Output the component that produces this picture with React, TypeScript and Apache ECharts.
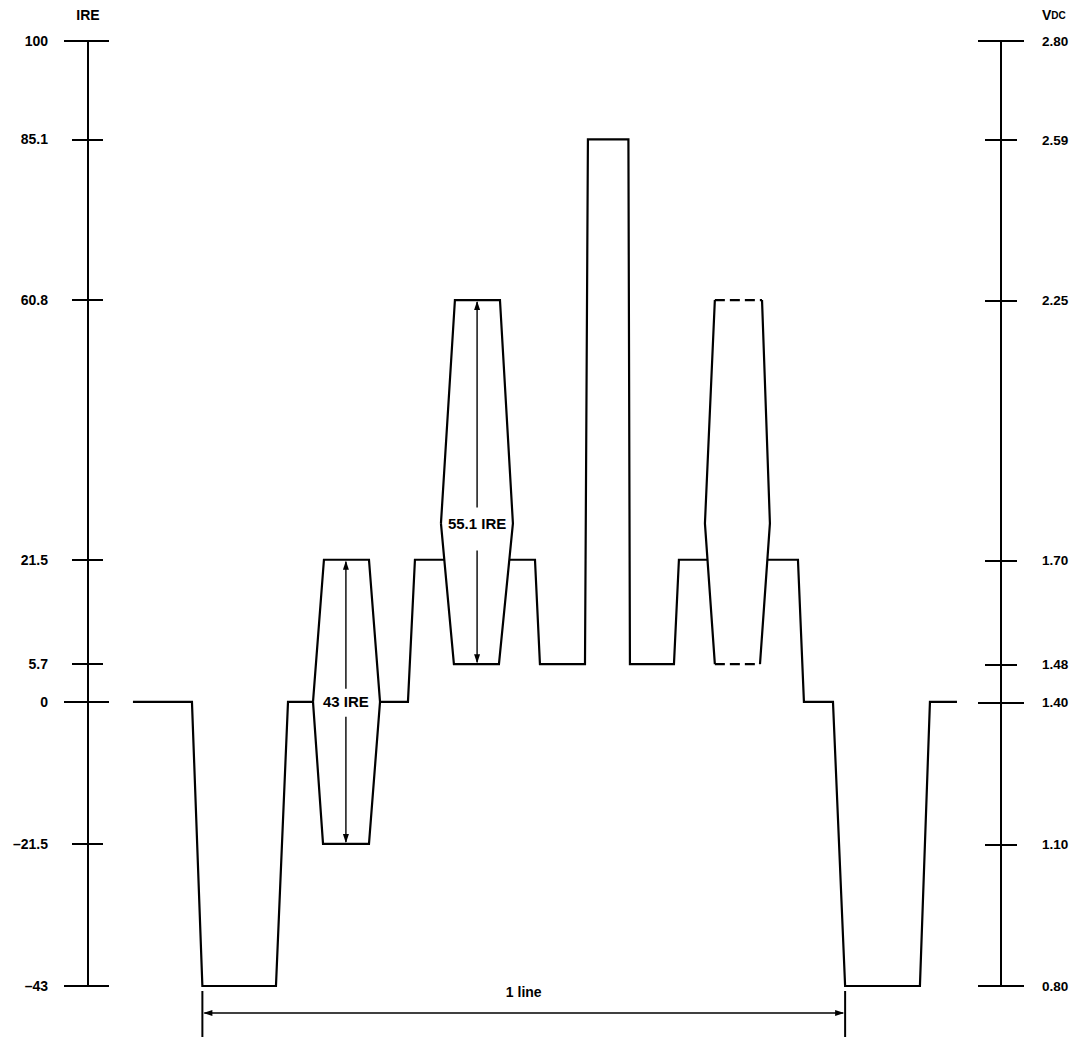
import React, { useEffect, useRef } from "react";
import * as echarts from "echarts";

// ---- Axis tick values ----
const IRE_TICKS = [100, 85.1, 60.8, 21.5, 5.7, 0, -21.5, -43];
const IRE_LONG_TICKS = [100, 0, -43];
const IRE_SHORT_TICKS = [85.1, 60.8, 21.5, 5.7, -21.5];
const VDC_TICKS = [2.8, 2.59, 2.25, 1.7, 1.48, 1.4, 1.1, 0.8];
const VDC_LONG_TICKS = [2.8, 1.4, 0.8];
const VDC_SHORT_TICKS = [2.59, 2.25, 1.7, 1.48, 1.1];

// ---- Waveform (time in µs, level in IRE) ----
const syncLeft = [[-6.86, 0], [-1.03, 0], [0, -43], [7.27, -43], [8.46, 0], [10.93, 0]];
const burstToStep = [[17.55, 0], [20.31, 0], [21.0, 21.5], [23.92, 21.5]];
const centerSection = [
  [30.32, 21.5], [32.86, 21.5], [33.35, 5.7], [37.8, 5.7], [38.09, 85.1], [42.09, 85.1],
  [42.24, 5.7], [46.59, 5.7], [47.08, 21.5], [49.91, 21.5],
];
const syncRight = [
  [55.83, 21.5], [58.84, 21.5], [59.43, 0], [62.3, 0], [63.5, -43], [70.89, -43], [71.88, 0], [74.55, 0],
];
const packet43 = [[10.93, 0], [12.01, 21.5], [16.46, 21.5], [17.55, 0], [16.46, -21.5], [11.92, -21.5], [10.93, 0]];
const packet55 = [[23.57, 27], [24.95, 60.8], [29.4, 60.8], [30.68, 27], [29.3, 5.7], [24.85, 5.7], [23.57, 27]];
const packetRightLeftSide = [[50.63, 60.8], [49.65, 27], [50.63, 5.7]];
const packetRightRightSide = [[55.29, 60.8], [56.07, 27], [55.09, 5.7]];
const packetRightTop = [[50.63, 60.8], [55.29, 60.8]];
const packetRightBottom = [[50.63, 5.7], [55.09, 5.7]];

// ---- Annotations ----
const measureTimes = [14.18, 27.14];
const measureLow = [-21.5, 5.7];
const measureHigh = [21.5, 60.8];
const measureMid = [0, 27];
const measureLabels = ["43 IRE", "55.1 IRE"];
const LINE_START = 0;
const LINE_END = 63.5;
const LINE_LABEL = "1 line";

const FONT = "'Liberation Sans', Arial, Helvetica, sans-serif";
const WEIGHT = "bold";

function fmtIRE(v: number) {
  const s = String(Math.abs(Math.round(v * 10) / 10));
  return v < 0 ? "\u2013" + s : s;
}

export default function App() {
  const ref = useRef<HTMLDivElement>(null);
  useEffect(() => {
    if (!ref.current) return;
    const chart = echarts.init(ref.current, undefined, { renderer: "svg" });
    const solid = { color: "#000", width: 2.2, join: "miter" as const, cap: "butt" as const };
    const lineSeries = (data: number[][], dashed = false) => ({
      type: "line",
      yAxisIndex: 0,
      data,
      symbol: "none",
      clip: false,
      silent: true,
      lineStyle: dashed ? { ...solid, type: [10, 5] } : solid,
    });
    const tickAxis = (
      position: "left" | "right",
      min: number,
      max: number,
      values: number[],
      inside: boolean,
      length: number
    ) => ({
      type: "value",
      position,
      min,
      max,
      axisLine: { show: false, onZero: false },
      axisLabel: { show: false },
      splitLine: { show: false },
      axisTick: { show: true, inside, length, customValues: values, lineStyle: { color: "#000", width: 2 } },
    });

    const option: any = {
      animation: false,
      backgroundColor: "#fff",
      textStyle: { fontFamily: FONT, color: "#000" },
      grid: { left: 88, right: 72, top: 41, bottom: 51, containLabel: false, outerBoundsMode: "none" },
      xAxis: { type: "value", min: -11.3, max: 78.9, show: false },
      yAxis: [
        {
          type: "value",
          position: "left",
          min: -43,
          max: 100,
          name: "IRE",
          nameLocation: "end",
          nameGap: 19,
          nameTextStyle: { fontSize: 14, color: "#000", fontFamily: FONT, fontWeight: WEIGHT },
          axisLine: { show: true, onZero: false, lineStyle: { color: "#000", width: 2 } },
          axisTick: { show: true, inside: false, length: 16, customValues: IRE_SHORT_TICKS, lineStyle: { color: "#000", width: 2 } },
          axisLabel: { customValues: IRE_TICKS, margin: 40, fontSize: 14, fontWeight: WEIGHT, color: "#000", fontFamily: FONT, formatter: (v: number) => fmtIRE(v) },
          splitLine: { show: false },
        },
        tickAxis("left", -43, 100, IRE_SHORT_TICKS, true, 15),
        tickAxis("left", -43, 100, IRE_LONG_TICKS, false, 24),
        tickAxis("left", -43, 100, IRE_LONG_TICKS, true, 21),
        {
          type: "value",
          position: "right",
          min: 0.8,
          max: 2.8,
          name: "{v|V}{s|DC}",
          nameLocation: "end",
          nameGap: 19,
          nameTextStyle: {
            align: "left",
            padding: [0, 0, 0, 41],
            fontFamily: FONT,
            color: "#000",
            rich: {
              v: { fontSize: 14, fontFamily: FONT, fontWeight: WEIGHT, color: "#000" },
              s: { fontSize: 10, fontFamily: FONT, fontWeight: WEIGHT, color: "#000" },
            },
          },
          axisLine: { show: true, onZero: false, lineStyle: { color: "#000", width: 2 } },
          axisTick: { show: true, inside: false, length: 16, customValues: VDC_SHORT_TICKS, lineStyle: { color: "#000", width: 2 } },
          axisLabel: { customValues: VDC_TICKS, margin: 41, fontSize: 13.5, fontWeight: WEIGHT, color: "#000", fontFamily: FONT, formatter: (v: number) => v.toFixed(2) },
          splitLine: { show: false },
        },
        tickAxis("right", 0.8, 2.8, VDC_SHORT_TICKS, true, 16),
        tickAxis("right", 0.8, 2.8, VDC_LONG_TICKS, false, 23),
        tickAxis("right", 0.8, 2.8, VDC_LONG_TICKS, true, 23),
      ],
      series: [
        lineSeries(syncLeft),
        lineSeries(burstToStep),
        lineSeries(centerSection),
        lineSeries(syncRight),
        lineSeries(packet43),
        lineSeries(packet55),
        lineSeries(packetRightLeftSide),
        lineSeries(packetRightRightSide),
        lineSeries(packetRightTop, true),
        lineSeries(packetRightBottom, true),
        {
          type: "custom",
          yAxisIndex: 0,
          clip: false,
          silent: true,
          data: measureTimes.map((t, i) => [t, measureLow[i], measureHigh[i], measureMid[i]]),
          encode: { x: 0, y: [1, 2, 3] },
          renderItem: (params: any, api: any) => {
            const t = api.value(0);
            const bot = api.coord([t, api.value(1)]);
            const top = api.coord([t, api.value(2)]);
            const mid = api.coord([t, api.value(3)]);
            const x = top[0];
            const gapT = params.dataIndex === 0 ? 13 : 16;
            const gapB = params.dataIndex === 0 ? 15 : 27;
            const ls = { stroke: "#000", lineWidth: 1.4 };
            return {
              type: "group",
              children: [
                { type: "line", shape: { x1: x, y1: top[1] + 2, x2: x, y2: mid[1] - gapT }, style: ls },
                { type: "line", shape: { x1: x, y1: mid[1] + gapB, x2: x, y2: bot[1] - 2 }, style: ls },
                { type: "polygon", shape: { points: [[x, top[1] + 1], [x - 3, top[1] + 10], [x + 3, top[1] + 10]] }, style: { fill: "#000" } },
                { type: "polygon", shape: { points: [[x, bot[1] - 1], [x - 3, bot[1] - 10], [x + 3, bot[1] - 10]] }, style: { fill: "#000" } },
                {
                  type: "text",
                  style: {
                    text: measureLabels[params.dataIndex],
                    x,
                    y: mid[1],
                    align: "center",
                    verticalAlign: "middle",
                    fontSize: 15,
                    fontWeight: WEIGHT,
                    fontFamily: FONT,
                    fill: "#000",
                  },
                },
              ],
            };
          },
        },
        {
          type: "custom",
          yAxisIndex: 0,
          clip: false,
          silent: true,
          data: [[LINE_START, LINE_END, -43]],
          encode: { x: [0, 1], y: 2 },
          renderItem: (params: any, api: any) => {
            const p0 = api.coord([api.value(0), api.value(2)]);
            const p1 = api.coord([api.value(1), api.value(2)]);
            const base = p0[1];
            const ly = base + 27;
            const ls = { stroke: "#000", lineWidth: 2 };
            return {
              type: "group",
              children: [
                { type: "line", shape: { x1: p0[0], y1: base + 5, x2: p0[0], y2: base + 52 }, style: ls },
                { type: "line", shape: { x1: p1[0], y1: base + 5, x2: p1[0], y2: base + 52 }, style: ls },
                { type: "line", shape: { x1: p0[0] + 2, y1: ly, x2: p1[0] - 2, y2: ly }, style: { stroke: "#000", lineWidth: 1.4 } },
                { type: "polygon", shape: { points: [[p0[0] + 1, ly], [p0[0] + 10, ly - 3], [p0[0] + 10, ly + 3]] }, style: { fill: "#000" } },
                { type: "polygon", shape: { points: [[p1[0] - 1, ly], [p1[0] - 10, ly - 3], [p1[0] - 10, ly + 3]] }, style: { fill: "#000" } },
                {
                  type: "text",
                  style: {
                    text: LINE_LABEL,
                    x: (p0[0] + p1[0]) / 2,
                    y: base + 6,
                    align: "center",
                    verticalAlign: "middle",
                    fontSize: 14,
                    fontWeight: WEIGHT,
                    fontFamily: FONT,
                    fill: "#000",
                  },
                },
              ],
            };
          },
        },
      ],
    };
    chart.setOption(option);
    return () => chart.dispose();
  }, []);
  return (
    <div
      ref={ref}
      style={{ position: "fixed", left: 0, top: 0, width: 1073, height: 1037, background: "#fff" }}
    />
  );
}
